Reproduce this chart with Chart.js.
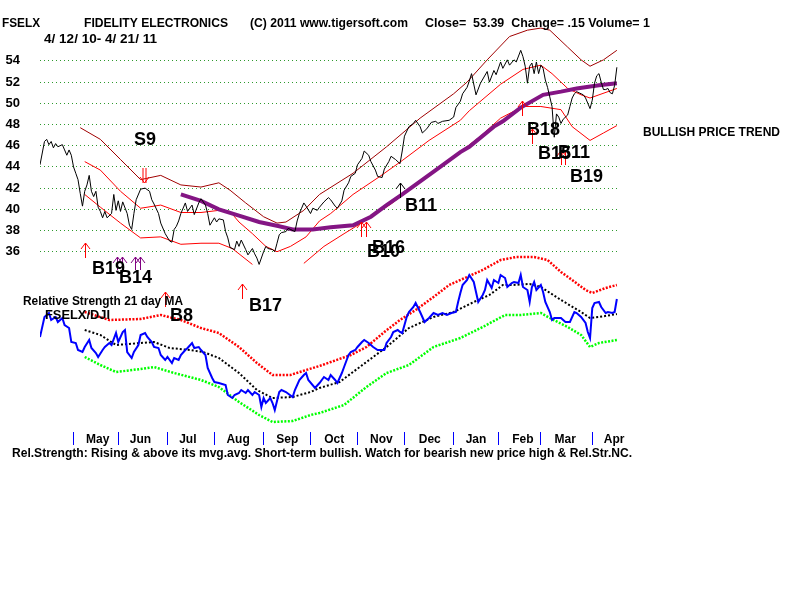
<!DOCTYPE html>
<html>
<head>
<meta charset="utf-8">
<title>FSELX</title>
<script src="https://cdn.jsdelivr.net/npm/chart.js@4.4.1/dist/chart.umd.min.js"></script>
<style>
  html, body { margin: 0; padding: 0; background: #ffffff; }
  canvas { display: block; }
</style>
</head>
<body>
<canvas id="tigerChart" width="800" height="600"></canvas>
<script>
// x values are trading days, 0 = 4/12/10

// daily close
const priceDays = [0,2,3,4,5,6,7,8,10,11,12,13,14,15,16,17,18,19,20,21,22,23,24,25,26,27,28,29,30,32,33,34,35,36,37,39,40,41,42,43,45,47,49,50,51,53,54,56,58,59,60,61,62,63,65,66,68,69,71,72,74,75,76,78,79,80,82,83,84,85,87,88,89,90,92,93,95,96,97,98,100,101,102,104,105,106,107,108,110,111,112,114,115,116,117,118,119,121,122,124,125,127,129,130,132,133,135,136,138,139,141,142,144,145,147,148,150,151,153,154,156,157,159,161,162,163,165,167,168,170,171,173,175,177,178,180,183,185,186,188,189,191,192,193,195,197,200,201,203,204,206,207,209,210,212,213,215,216,217,218,219,220,221,222,223,224,225,226,227,228,229,230,231,232,233,234,236,237,238,239,240,242,243,244,246,247,248,249,250,251,252,253,254,255,256,257,258];
const priceClose = [44.2,46.4,46.6,46.1,46.4,45.8,46.2,45.9,46.1,45.6,45.1,45.6,45.1,44.0,43.4,42.8,41.5,40.3,41.7,42.3,43.2,41.7,41.2,41.7,40.2,39.8,39.2,39.8,39.2,39.6,41.4,39.9,40.8,39.8,40.7,39.6,38.5,38.1,39.6,40.9,41.9,42.0,41.7,40.9,40.5,39.6,38.7,37.7,37.0,36.9,38.1,38.4,38.9,39.6,40.6,39.8,40.4,39.5,40.6,41.0,40.4,39.6,38.5,39.2,38.8,39.1,39.0,37.9,37.3,36.4,36.2,37.0,36.5,37.1,36.2,35.7,36.3,35.8,35.4,34.8,36.0,36.5,36.3,36.2,36.0,36.8,37.6,37.8,37.9,38.2,38.1,37.9,38.9,39.6,40.1,40.6,40.3,39.6,40.1,39.9,40.2,40.7,41.1,40.9,40.3,40.1,40.8,41.8,42.5,43.1,43.4,44.2,44.8,45.5,45.1,44.5,43.7,43.1,43.0,43.8,44.5,45.0,44.7,44.3,45.5,46.9,47.8,48.1,48.4,47.8,47.2,47.6,48.2,48.3,48.1,48.3,48.4,48.7,49.6,50.2,50.9,51.5,52.1,52.8,50.8,51.9,53.0,52.0,53.1,52.7,53.9,53.3,54.1,53.6,54.1,53.9,55.0,54.4,53.5,51.9,53.5,53.8,52.8,53.9,52.8,53.6,53.3,52.2,51.5,50.6,49.7,46.8,49.0,48.7,48.1,48.5,48.9,49.7,50.5,50.9,51.1,50.9,50.8,50.5,49.5,50.3,51.9,52.6,52.8,52.0,51.3,51.3,51.4,51.0,50.9,51.7,53.4];

// price bands and long moving average
const outerDays = [18,27,36,45,54,63,72,80,85,92,100,106,110,118,125,140,155,170,185,191,200,210,218,224,228,236,242,246,252,258];
const outerBand = [47.7,46.6,44.7,42.8,43.2,42.3,42.1,42.5,41.8,40.6,39.3,38.7,38.8,39.9,41.4,43.4,45.9,48.6,50.9,52.0,54.1,56.3,56.9,57.1,56.9,55.3,54.1,53.5,54.1,55.0];
const upperDays = [20,27,36,45,54,63,72,80,85,89,95,101,106,112,119,125,130,140,152,162,174,188,192,206,216,224,229,236,242,246,250,258];
const upperBand = [44.5,43.7,41.7,40.1,40.4,39.7,39.7,39.9,39.8,38.8,37.7,36.5,36.0,36.5,37.4,38.9,39.6,41.4,43.1,44.6,46.5,48.4,49.3,51.8,53.2,53.6,52.8,51.4,50.8,50.5,50.8,51.4];
const lowerDays = [20,27,36,45,54,63,72,80,86,95,100,118,127,136,146,157,170,183,197,206,216,224,233,238,246,252,258];
const lowerBand = [41.4,40.2,38.7,37.3,37.4,36.7,36.8,36.8,36.3,34.8,null,34.9,36.5,37.7,39.0,40.5,42.6,44.6,46.9,48.6,49.7,49.7,49.4,47.8,46.5,47.2,47.9];
const maDays = [63,72,80,89,98,107,113,122,130,140,148,155,162,177,188,192,203,207,215,225,233,240,250,258];
const longMA = [41.4,40.8,40.0,39.4,38.8,38.4,38.1,38.1,38.3,38.5,39.3,40.4,41.4,43.7,45.4,45.9,47.8,48.3,49.6,50.8,51.1,51.4,51.7,51.9];

// relative strength FSELX/DJI (x10000) and its 21 day MA with bands
const rsDays = [0,2,4,5,7,8,10,11,13,14,16,17,19,20,22,23,25,26,28,29,31,32,34,35,37,38,39,41,42,44,45,47,48,50,51,53,54,56,57,59,60,62,63,65,66,68,69,71,72,74,75,77,78,80,83,84,86,87,89,90,92,93,95,96,98,99,100,101,103,104,105,107,108,110,113,114,116,118,119,120,123,125,127,129,130,132,133,135,136,138,139,141,142,144,145,147,149,151,154,155,157,158,160,161,162,164,165,167,168,170,172,174,176,178,180,182,184,186,187,188,189,191,192,194,195,196,198,199,200,202,203,205,206,208,209,211,212,214,215,216,218,219,220,221,222,224,225,226,228,229,230,233,235,237,239,240,242,244,245,246,247,248,250,251,253,254,256,257,258];
const rsValues = [39.5,41.5,41.9,41.2,41.5,41.0,41.4,40.7,40.4,39.0,38.9,38.2,38.0,38.5,39.2,38.4,37.9,37.5,38.2,38.5,38.9,38.7,39.9,39.0,40.0,40.2,38.0,37.4,38.0,38.7,39.7,39.9,39.5,39.0,38.5,38.4,37.7,37.2,37.5,36.9,37.4,37.2,37.7,38.2,38.4,38.9,38.4,38.5,38.2,37.7,36.4,35.4,35.0,34.9,34.7,33.7,33.4,33.7,33.9,34.2,33.9,34.2,33.7,34.0,33.7,32.5,33.4,32.9,33.4,32.9,32.2,34.0,34.2,34.0,33.5,34.2,35.2,35.7,35.9,35.2,34.4,34.9,35.5,35.2,35.7,35.2,34.9,35.9,36.5,37.7,38.0,38.2,38.5,39.0,39.2,38.9,38.5,38.2,38.2,38.9,39.5,40.0,40.2,40.0,39.9,41.5,42.0,42.5,42.9,42.0,41.0,41.4,41.9,41.7,41.9,41.7,41.9,42.0,43.0,43.9,44.7,45.2,45.7,45.0,44.0,43.0,43.7,44.2,45.2,44.4,45.2,44.9,45.7,45.4,44.5,44.9,45.0,44.9,45.7,44.5,44.2,43.0,44.5,45.0,44.2,44.7,44.0,43.0,42.0,41.2,41.4,41.4,41.0,41.0,42.0,41.9,41.5,40.9,40.0,39.4,42.4,42.9,43.0,42.5,41.9,42.0,41.9,42.0,43.3];
const rsUpperDays = [20,31,45,54,63,72,80,89,97,104,112,119,125,139,146,154,161,168,176,183,191,198,206,213,221,227,233,238,244,247,253,258];
const rsUpper = [42.0,41.2,41.3,41.7,41.2,40.4,39.9,38.5,36.9,35.7,35.7,36.2,36.6,37.7,38.5,40.0,41.2,42.2,43.5,44.7,45.5,46.2,47.2,47.5,47.5,47.2,46.0,45.2,44.2,43.9,44.4,44.7];
const rsMaDays = [20,27,34,45,51,58,67,73,80,89,97,104,113,121,125,134,143,155,165,176,185,194,201,207,211,219,224,233,242,246,250,258];
const rsMA = [40.2,39.7,38.7,38.9,39.0,38.4,38.2,38.0,37.4,35.9,34.2,33.4,33.5,34.0,34.4,35.0,36.5,38.5,40.4,41.5,42.0,43.0,43.7,44.7,44.7,44.8,44.5,43.2,42.0,41.4,41.5,41.8];
const rsLowerDays = [20,27,34,45,51,60,72,80,89,98,104,113,121,125,136,146,155,165,176,188,198,208,215,224,228,236,242,246,250,258];
const rsLower = [37.5,36.7,36.0,36.3,36.5,35.9,35.2,34.5,33.0,31.7,31.0,31.1,31.7,31.9,32.7,34.5,35.9,36.7,38.5,39.4,40.5,41.7,41.7,41.9,41.4,40.5,39.7,38.5,38.9,39.2];

// axes
const priceTicks = [36, 38, 40, 42, 44, 46, 48, 50, 52, 54];
const monthStarts = [15, 35, 57, 78, 100, 121, 142, 163, 185, 205, 224, 247];
const monthNames = ['May', 'Jun', 'Jul', 'Aug', 'Sep', 'Oct', 'Nov', 'Dec', 'Jan', 'Feb', 'Mar', 'Apr'];
const monthLabelDays = [25.8, 44.9, 66.1, 88.6, 110.6, 131.6, 152.7, 174.3, 195, 216, 234.9, 256.8];

// signals: arrows (day, tip price) and their labels (day, baseline price)
const arrowDays = [46.5, 20.1, 34.3, 36.5, 42.5, 44.7, 55.9, 90.3, 143.6, 145.8, 161, 215.6, 220, 233, 234.8];
const arrowTips = [42.5, 36.8, 35.5, 35.5, 35.5, 35.5, 32.2, 33.0, 38.8, 38.8, 42.5, 50.2, 47.6, 45.6, 45.6];
const arrowKinds = ['S', 'B', 'P', 'P', 'P', 'P', 'B', 'B', 'B', 'B', 'K', 'B', 'B', 'B', 'B'];
const signalLabels = ['S9', 'B19', 'B14', 'B8', 'B17', 'B10', 'B16', 'B11', 'B18', 'B15', 'B11', 'B19'];
const labelDays = [42.0, 23.3, 35.3, 58.1, 93.5, 146.2, 148.5, 163.2, 217.8, 222.7, 231.7, 237.0];
const labelLevels = [46.1, 33.9, 33.05, 29.45, 30.4, 35.5, 35.9, 39.85, 47.0, 44.75, 44.85, 42.6];

const FONT = '"Liberation Sans", Arial, sans-serif';

function pts(days, vals) {
    return days.map((d, i) => ({ x: d, y: vals[i] }));
}

// draw text squeezed/stretched to a given width
function fitText(ctx, text, x, y, width, font) {
    ctx.font = font;
    const w = ctx.measureText(text).width;
    ctx.save();
    ctx.translate(x, y);
    ctx.scale(width / w, 1);
    ctx.fillText(text, 0, 0);
    ctx.restore();
}

function drawArrow(ctx, x, y, kind) {
    const up = kind !== 'S';
    const len = kind === 'P' ? 13 : 15;
    const color = kind === 'P' ? '#800080' : (kind === 'K' ? '#000000' : '#ff0000');
    const shafts = kind === 'S' ? [-1.5, 1.5] : [0];
    const dir = up ? 1 : -1;
    ctx.strokeStyle = color;
    ctx.lineWidth = 1;
    ctx.beginPath();
    shafts.forEach(s => {
        ctx.moveTo(x + s + 0.5, y);
        ctx.lineTo(x + s + 0.5, y + dir * len);
    });
    ctx.moveTo(x - 4, y + dir * 6);
    ctx.lineTo(x + 0.5, y);
    ctx.lineTo(x + 5, y + dir * 6);
    ctx.stroke();
}

const tigerDecor = {
    id: 'tigerDecor',
    afterDatasetsDraw(chart) {
        const ctx = chart.ctx;
        const xs = chart.scales.x;
        const yp = chart.scales.yPrice;
        ctx.save();
        arrowDays.forEach((d, i) => {
            drawArrow(ctx, Math.round(xs.getPixelForValue(d)), Math.round(yp.getPixelForValue(arrowTips[i])), arrowKinds[i]);
        });
        ctx.fillStyle = '#000000';
        ctx.font = 'bold 18px ' + FONT;
        signalLabels.forEach((t, i) => {
            ctx.fillText(t, xs.getPixelForValue(labelDays[i]), yp.getPixelForValue(labelLevels[i]));
        });

        // header and notes
        fitText(ctx, 'FSELX', 2, 27, 38, 'bold 12px ' + FONT);
        fitText(ctx, 'FIDELITY ELECTRONICS', 84, 27, 144, 'bold 12px ' + FONT);
        fitText(ctx, '(C) 2011 www.tigersoft.com', 250, 27, 158, 'bold 12px ' + FONT);
        fitText(ctx, 'Close=  53.39  Change= .15 Volume= 1', 425, 27, 225, 'bold 12px ' + FONT);
        fitText(ctx, '4/ 12/ 10- 4/ 21/ 11', 44, 43, 113, 'bold 12px ' + FONT);
        fitText(ctx, 'BULLISH PRICE TREND', 643, 136, 137, 'bold 12px ' + FONT);
        fitText(ctx, 'Relative Strength 21 day MA', 23, 305, 160, 'bold 12px ' + FONT);
        fitText(ctx, 'FSELX/DJI', 45, 319, 65, 'bold 12px ' + FONT);
        fitText(ctx, 'Rel.Strength: Rising & above its mvg.avg. Short-term bullish. Watch for bearish new price high & Rel.Str.NC.',
            12, 457, 620, 'bold 12px ' + FONT);
        ctx.restore();
    }
};

const line = (data, color, width, yAxisID, extra) => Object.assign({
    data: data,
    borderColor: color,
    backgroundColor: color,
    borderWidth: width,
    pointRadius: 0,
    fill: false,
    tension: 0,
    yAxisID: yAxisID
}, extra || {});

const tickDays = monthStarts.concat(monthLabelDays).sort((a, b) => a - b);

new Chart(document.getElementById('tigerChart').getContext('2d'), {
    type: 'line',
    data: {
        datasets: [
            line(pts(priceDays, priceClose), '#000000', 1, 'yPrice'),
            line(pts(maDays, longMA), '#841584', 4, 'yPrice'),
            line(pts(upperDays, upperBand), '#ff0000', 1, 'yPrice'),
            line(pts(lowerDays, lowerBand), '#ff0000', 1, 'yPrice', { spanGaps: false }),
            line(pts(outerDays, outerBand), '#a00000', 1, 'yPrice'),
            line(pts(rsDays, rsValues), '#0000ff', 2, 'yRS'),
            line(pts(rsMaDays, rsMA), '#000000', 2, 'yRS', { borderDash: [2, 2] }),
            line(pts(rsUpperDays, rsUpper), '#ff0000', 2.5, 'yRS', { borderDash: [2, 1.5] }),
            line(pts(rsLowerDays, rsLower), '#00ff00', 2.5, 'yRS', { borderDash: [2, 1.5] })
        ]
    },
    options: {
        responsive: false,
        animation: false,
        events: [],
        layout: { padding: { left: 0, right: 180, top: 20, bottom: 0 } },
        plugins: {
            legend: { display: false },
            tooltip: { enabled: false },
            title: { display: false }
        },
        scales: {
            x: {
                type: 'linear',
                position: 'bottom',
                min: 0,
                max: 259.4,
                afterBuildTicks: scale => { scale.ticks = tickDays.map(v => ({ value: v })); },
                afterFit: scale => {
                    scale.height = 168;
                    scale.paddingLeft = 0;
                    scale.paddingRight = 0;
                },
                border: { display: false },
                grid: {
                    drawOnChartArea: false,
                    drawTicks: true,
                    tickLength: 13,
                    tickWidth: 1,
                    color: 'rgba(0,0,0,0)',
                    tickColor: ctx => (ctx.tick && monthStarts.includes(ctx.tick.value)) ? '#0000ff' : 'rgba(0,0,0,0)'
                },
                ticks: {
                    autoSkip: false,
                    maxRotation: 0,
                    padding: -13,
                    color: '#000000',
                    font: { family: FONT, size: 12, weight: 'bold' },
                    callback: value => {
                        const i = monthLabelDays.indexOf(value);
                        return i >= 0 ? monthNames[i] : '';
                    }
                }
            },
            yPrice: {
                type: 'linear',
                position: 'left',
                min: 18.99,
                max: 57.86,
                afterBuildTicks: scale => { scale.ticks = priceTicks.map(v => ({ value: v })); },
                afterFit: scale => {
                    scale.width = 40;
                    scale.paddingTop = 0;
                    scale.paddingBottom = 0;
                },
                border: { display: false, dash: [1, 3] },
                grid: {
                    color: '#2e9a2e',
                    lineWidth: 1,
                    drawTicks: false
                },
                ticks: {
                    padding: 20,
                    color: '#000000',
                    font: { family: FONT, size: 13, weight: 'bold' },
                    callback: value => String(value)
                }
            },
            yRS: {
                type: 'linear',
                display: false,
                min: 30,
                max: 71.2
            }
        }
    },
    plugins: [tigerDecor]
});
</script>
</body>
</html>
